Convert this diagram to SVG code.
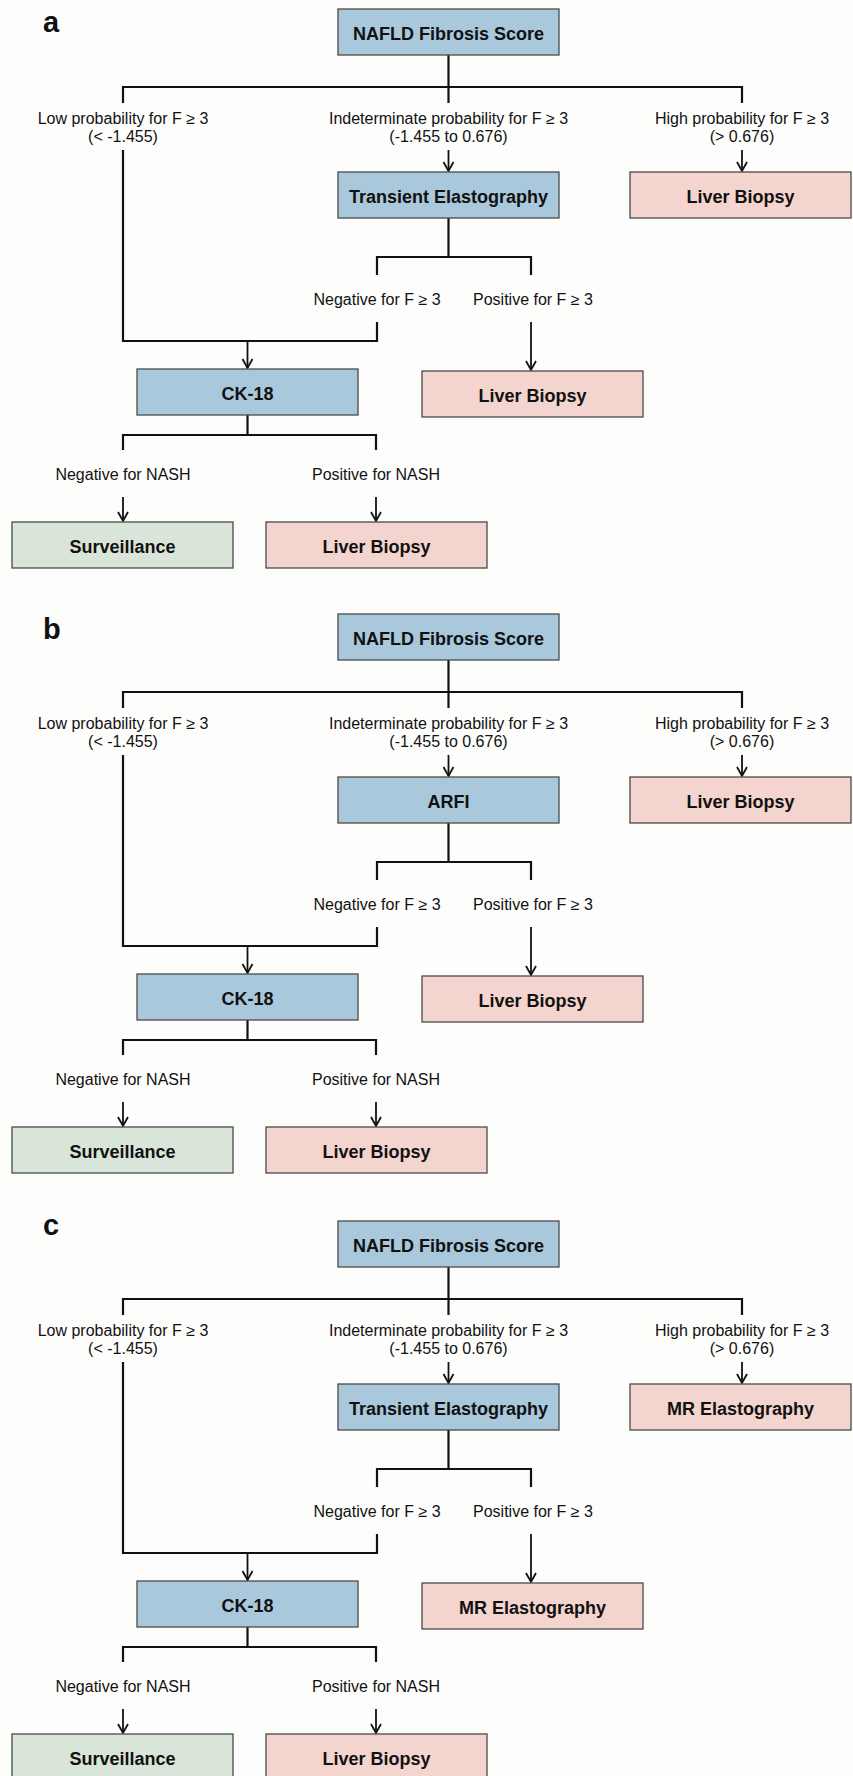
<svg xmlns="http://www.w3.org/2000/svg" width="853" height="1776" viewBox="0 0 853 1776">
<defs>
<marker id="ah" markerUnits="userSpaceOnUse" viewBox="-12 -7 14 14" markerWidth="14" markerHeight="14" refX="0" refY="0" orient="auto">
<path d="M-9,-5 L0,0 L-9,5" fill="none" stroke="#111" stroke-width="1.8"/>
</marker>
<style>
.bg{fill:#fdfdfc}
.box{stroke:#4a4a4a;stroke-width:1.3}
.blue{fill:#a9c8db}
.pink{fill:#f4d4cf}
.green{fill:#d9e5d8}
.bt{font-family:"Liberation Sans",Arial,sans-serif;font-weight:bold;font-size:18px;fill:#111;text-anchor:middle}
.lt{font-family:"Liberation Sans",Arial,sans-serif;font-size:16px;fill:#111;text-anchor:middle}
.pl{font-family:"Liberation Sans",Arial,sans-serif;font-weight:bold;font-size:29px;fill:#111}
.ln{fill:none;stroke:#111;stroke-width:2.2;stroke-linejoin:miter;stroke-linecap:butt}
.ar{fill:none;stroke:#111;stroke-width:1.8;marker-end:url(#ah)}
</style>
</defs>
<rect class="bg" x="0" y="0" width="853" height="1776"/>

<!-- Panel a -->
<g id="panel-a">
<text class="pl" x="43" y="32">a</text>
<g id="a-connectors">
<path class="ln" d="M448.5,55 V103 M123,103 V87 H742 V103"/>
<path class="ln" d="M123,150 V341 H377 V322"/>
<path class="ln" d="M448.5,218 V257 M377,275 V257 H531 V275"/>
<path class="ln" d="M247.5,415 V435 M123,450 V435 H376 V450"/>
<path class="ar" d="M247.5,341 V368"/>
<path class="ar" d="M448.5,150 V171"/>
<path class="ar" d="M742,150 V171"/>
<path class="ar" d="M531,322 V370"/>
<path class="ar" d="M123,497 V521"/>
<path class="ar" d="M376,497 V521"/>
<text class="lt" x="123" y="124">Low probability for F ≥ 3</text>
<text class="lt" x="123" y="142">(&lt; -1.455)</text>
<text class="lt" x="448.5" y="124">Indeterminate probability for F ≥ 3</text>
<text class="lt" x="448.5" y="142">(-1.455 to 0.676)</text>
<text class="lt" x="742" y="124">High probability for F ≥ 3</text>
<text class="lt" x="742" y="142">(&gt; 0.676)</text>
<text class="lt" x="377" y="305">Negative for F ≥ 3</text>
<text class="lt" x="533" y="305">Positive for F ≥ 3</text>
<text class="lt" x="123" y="480">Negative for NASH</text>
<text class="lt" x="376" y="480">Positive for NASH</text>
</g>
<g id="a-nfs"><rect class="box blue" x="338" y="9" width="221" height="46"/><text class="bt" x="448.5" y="40">NAFLD Fibrosis Score</text></g>
<g id="a-te"><rect class="box blue" x="338" y="172" width="221" height="46"/><text class="bt" x="448.5" y="203">Transient Elastography</text></g>
<g id="a-lb1"><rect class="box pink" x="630" y="172" width="221" height="46"/><text class="bt" x="740.5" y="203">Liver Biopsy</text></g>
<g id="a-ck18"><rect class="box blue" x="137" y="369" width="221" height="46"/><text class="bt" x="247.5" y="400">CK-18</text></g>
<g id="a-lb2"><rect class="box pink" x="422" y="371" width="221" height="46"/><text class="bt" x="532.5" y="402">Liver Biopsy</text></g>
<g id="a-surv"><rect class="box green" x="12" y="522" width="221" height="46"/><text class="bt" x="122.5" y="553">Surveillance</text></g>
<g id="a-lb3"><rect class="box pink" x="266" y="522" width="221" height="46"/><text class="bt" x="376.5" y="553">Liver Biopsy</text></g>
</g>

<!-- Panel b -->
<text class="pl" x="43" y="639">b</text>
<g id="panel-b" transform="translate(0,605)">
<g id="b-connectors">
<path class="ln" d="M448.5,55 V103 M123,103 V87 H742 V103"/>
<path class="ln" d="M123,150 V341 H377 V322"/>
<path class="ln" d="M448.5,218 V257 M377,275 V257 H531 V275"/>
<path class="ln" d="M247.5,415 V435 M123,450 V435 H376 V450"/>
<path class="ar" d="M247.5,341 V368"/>
<path class="ar" d="M448.5,150 V171"/>
<path class="ar" d="M742,150 V171"/>
<path class="ar" d="M531,322 V370"/>
<path class="ar" d="M123,497 V521"/>
<path class="ar" d="M376,497 V521"/>
<text class="lt" x="123" y="124">Low probability for F ≥ 3</text>
<text class="lt" x="123" y="142">(&lt; -1.455)</text>
<text class="lt" x="448.5" y="124">Indeterminate probability for F ≥ 3</text>
<text class="lt" x="448.5" y="142">(-1.455 to 0.676)</text>
<text class="lt" x="742" y="124">High probability for F ≥ 3</text>
<text class="lt" x="742" y="142">(&gt; 0.676)</text>
<text class="lt" x="377" y="305">Negative for F ≥ 3</text>
<text class="lt" x="533" y="305">Positive for F ≥ 3</text>
<text class="lt" x="123" y="480">Negative for NASH</text>
<text class="lt" x="376" y="480">Positive for NASH</text>
</g>
<g id="b-nfs"><rect class="box blue" x="338" y="9" width="221" height="46"/><text class="bt" x="448.5" y="40">NAFLD Fibrosis Score</text></g>
<g id="b-arfi"><rect class="box blue" x="338" y="172" width="221" height="46"/><text class="bt" x="448.5" y="203">ARFI</text></g>
<g id="b-lb1"><rect class="box pink" x="630" y="172" width="221" height="46"/><text class="bt" x="740.5" y="203">Liver Biopsy</text></g>
<g id="b-ck18"><rect class="box blue" x="137" y="369" width="221" height="46"/><text class="bt" x="247.5" y="400">CK-18</text></g>
<g id="b-lb2"><rect class="box pink" x="422" y="371" width="221" height="46"/><text class="bt" x="532.5" y="402">Liver Biopsy</text></g>
<g id="b-surv"><rect class="box green" x="12" y="522" width="221" height="46"/><text class="bt" x="122.5" y="553">Surveillance</text></g>
<g id="b-lb3"><rect class="box pink" x="266" y="522" width="221" height="46"/><text class="bt" x="376.5" y="553">Liver Biopsy</text></g>
</g>

<!-- Panel c -->
<text class="pl" x="43" y="1235">c</text>
<g id="panel-c" transform="translate(0,1212)">
<g id="c-connectors">
<path class="ln" d="M448.5,55 V103 M123,103 V87 H742 V103"/>
<path class="ln" d="M123,150 V341 H377 V322"/>
<path class="ln" d="M448.5,218 V257 M377,275 V257 H531 V275"/>
<path class="ln" d="M247.5,415 V435 M123,450 V435 H376 V450"/>
<path class="ar" d="M247.5,341 V368"/>
<path class="ar" d="M448.5,150 V171"/>
<path class="ar" d="M742,150 V171"/>
<path class="ar" d="M531,322 V370"/>
<path class="ar" d="M123,497 V521"/>
<path class="ar" d="M376,497 V521"/>
<text class="lt" x="123" y="124">Low probability for F ≥ 3</text>
<text class="lt" x="123" y="142">(&lt; -1.455)</text>
<text class="lt" x="448.5" y="124">Indeterminate probability for F ≥ 3</text>
<text class="lt" x="448.5" y="142">(-1.455 to 0.676)</text>
<text class="lt" x="742" y="124">High probability for F ≥ 3</text>
<text class="lt" x="742" y="142">(&gt; 0.676)</text>
<text class="lt" x="377" y="305">Negative for F ≥ 3</text>
<text class="lt" x="533" y="305">Positive for F ≥ 3</text>
<text class="lt" x="123" y="480">Negative for NASH</text>
<text class="lt" x="376" y="480">Positive for NASH</text>
</g>
<g id="c-nfs"><rect class="box blue" x="338" y="9" width="221" height="46"/><text class="bt" x="448.5" y="40">NAFLD Fibrosis Score</text></g>
<g id="c-te"><rect class="box blue" x="338" y="172" width="221" height="46"/><text class="bt" x="448.5" y="203">Transient Elastography</text></g>
<g id="c-mre1"><rect class="box pink" x="630" y="172" width="221" height="46"/><text class="bt" x="740.5" y="203">MR Elastography</text></g>
<g id="c-ck18"><rect class="box blue" x="137" y="369" width="221" height="46"/><text class="bt" x="247.5" y="400">CK-18</text></g>
<g id="c-mre2"><rect class="box pink" x="422" y="371" width="221" height="46"/><text class="bt" x="532.5" y="402">MR Elastography</text></g>
<g id="c-surv"><rect class="box green" x="12" y="522" width="221" height="46"/><text class="bt" x="122.5" y="553">Surveillance</text></g>
<g id="c-lb3"><rect class="box pink" x="266" y="522" width="221" height="46"/><text class="bt" x="376.5" y="553">Liver Biopsy</text></g>
</g>
</svg>
